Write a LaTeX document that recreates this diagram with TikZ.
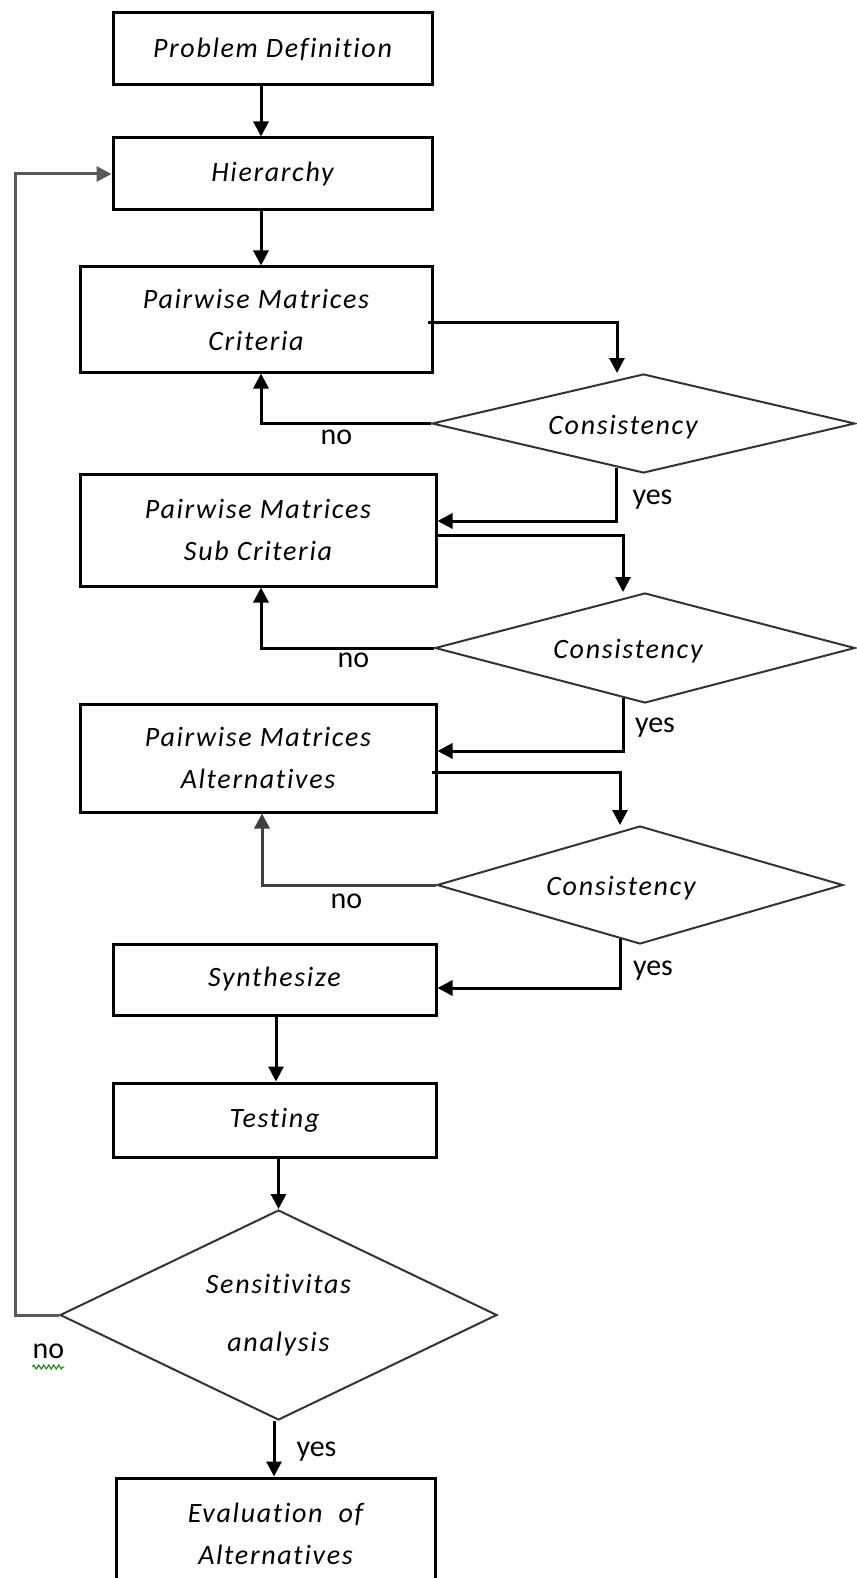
\documentclass[tikz,border=0pt]{standalone}
\usepackage{fontspec}
\setmainfont{Carlito}
\newfontfamily\boxFont[LetterSpace=6, Ligatures=NoCommon]{Carlito}
\usetikzlibrary{arrows.meta, positioning, shapes.geometric, calc, decorations.pathmorphing}
\tikzstyle{flowBox} = [draw, rectangle, line width=3pt, inner sep=0pt, align=center,
   font=\boxFont\itshape\fontsize{28}{42}\selectfont]
\tikzstyle{testDiamond} = [draw=black!80, diamond, aspect=2, line width=2pt, inner sep=0pt]
\tikzstyle{diamondText} = [font=\boxFont\itshape\fontsize{28}{58}\selectfont, align=center]
\tikzstyle{flowArrow} = [line width=3pt, -{Triangle[width=15pt,length=15pt]}]
\tikzstyle{answer} = [font=\fontsize{30}{36}\selectfont, inner sep=0pt, anchor=base]

\begin{document}
\begin{tikzpicture}[x=1pt, y=1pt]
  \useasboundingbox (0,0) rectangle (856,-1578);

  % main column
  \node[flowBox, minimum width=319pt, minimum height=72pt] (prob) at (272.5,-49) {Problem Definition};
  \node[flowBox, minimum width=319pt, minimum height=72pt, below=50pt of prob] (hier) {Hierarchy};
  \node[flowBox, minimum width=352pt, minimum height=105pt, below=54pt of hier, xshift=-16.5pt] (pmCrit) {Pairwise Matrices\\Criteria};
  \node[flowBox, minimum width=356pt, minimum height=112pt, below=99pt of pmCrit, xshift=2pt] (pmSub) {Pairwise Matrices\\Sub Criteria};
  \node[flowBox, minimum width=356pt, minimum height=108pt, below=115pt of pmSub] (pmAlt) {Pairwise Matrices\\Alternatives};
  \node[flowBox, minimum width=323pt, minimum height=71pt, below=129pt of pmAlt, xshift=16.5pt] (synth) {Synthesize};
  \node[flowBox, minimum width=323pt, minimum height=74pt, below=65pt of synth] (test) {Testing};
  \node[testDiamond, minimum width=437pt, minimum height=210pt, below=50.5pt of test, xshift=4pt,
     diamondText] (sens) {Sensitivitas\\analysis};
  \node[flowBox, minimum width=319pt, minimum height=112pt, below=55.5pt of sens, xshift=-3pt] (eval) {Evaluation\hspace{8pt} of\\Alternatives};

  % consistency checks
  \node[testDiamond, minimum width=423pt, minimum height=99pt, right=-2.5pt of pmCrit.south east, yshift=-50pt,
     label={[diamondText, name=consCritText, xshift=-20.5pt, yshift=-4pt]center:Consistency}] (consCrit) {};
  \node[testDiamond, minimum width=420pt, minimum height=110pt, right=-3.5pt of pmSub.south east, yshift=-60.5pt,
     label={[diamondText, name=consSubText, xshift=-17pt, yshift=-3pt]center:Consistency}] (consSub) {};
  \node[testDiamond, minimum width=406pt, minimum height=118pt, right=-1.5pt of pmAlt.south east, yshift=-71.5pt,
     label={[diamondText, name=consAltText, xshift=-19pt, yshift=-3pt]center:Consistency}] (consAlt) {};

  \coordinate (loopCorner) at (15,0); % left return line

  % arrows down the column
  \draw[flowArrow] ([xshift=-11.5pt]prob.south) -- ([xshift=-11.5pt]hier.north);
  \draw[flowArrow] ([xshift=-11.5pt]hier.south) -- ([xshift=-11.5pt]hier.south |- pmCrit.north);
  \draw[flowArrow] ([xshift=1.5pt]synth.south) -- ([xshift=1.5pt]test.north);
  \draw[flowArrow] (test.south -| sens.north) -- (sens.north);
  \draw[flowArrow] ([xshift=-4.5pt]sens.south) -- ([xshift=-4.5pt]sens.south |- eval.north);

  % out to the checks
  \draw[flowArrow] ([xshift=-5.5pt,yshift=-2.5pt]pmCrit.east) -| ([xshift=-26.5pt]consCrit.north);
  \draw[flowArrow] ([xshift=-2pt,yshift=-5pt]pmSub.east) -| ([xshift=-22pt]consSub.north);
  \draw[flowArrow] ([xshift=-5.5pt,yshift=-14pt]pmAlt.east) -| ([xshift=-20pt]consAlt.north);

  % no: back up
  \draw[flowArrow] (consCrit.west) -| ([xshift=5pt]pmCrit.south);
  \draw[flowArrow] (consSub.west) -| ([xshift=3pt]pmSub.south);
  \draw[flowArrow, black!75] (consAlt.west) -| ([xshift=4pt]pmAlt.south);
  \draw[flowArrow, black!65] (sens.west) -- (sens.west -| loopCorner) |- (hier.west);

  % yes: on to the next step
  \draw[flowArrow] ($(consCrit.south)!0.125!(consCrit.west)$) |- ([yshift=9pt]pmSub.east);
  \draw[flowArrow] ($(consSub.south)!0.104!(consSub.west)$) |- ([yshift=7pt]pmAlt.east);
  \draw[flowArrow] ($(consAlt.south)!0.098!(consAlt.west)$) |- ([yshift=-8.5pt]synth.east);

  % answers
  \node[answer] (noCrit) at (336.5,-444) {no};
  \node[answer] (noSub) at (353.5,-667) {no};
  \node[answer] (noAlt) at (346.5,-908) {no};
  \node[answer] (noSens) at (48.5,-1358) {no};
  \node[answer] (yesCrit) at (652.5,-504) {yes};
  \node[answer] (yesSub) at (655,-732) {yes};
  \node[answer] (yesAlt) at (653,-975) {yes};
  \node[answer] (yesSens) at (316.5,-1456) {yes};
  \draw[green!50!black, line width=1pt, decorate, decoration={zigzag, amplitude=2pt, segment length=5pt}]
     ([yshift=-9pt]noSens.base west) -- ([yshift=-9pt]noSens.base east);
\end{tikzpicture}
\end{document}
